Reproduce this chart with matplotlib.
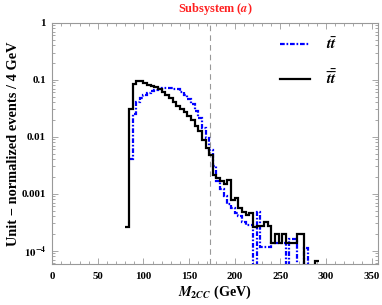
import numpy as np
import matplotlib
matplotlib.use("Agg")
import matplotlib.pyplot as plt
from matplotlib.ticker import FixedLocator, LogLocator, NullFormatter, FixedFormatter

# ---------------- data ----------------
bin_width = 4
black_start = 80
black_vals = [2.6e-4, 0.030, 0.083, 0.096, 0.096, 0.087, 0.082, 0.077, 0.073, 0.068,
              0.061, 0.054, 0.047, 0.040, 0.034, 0.030, 0.027, 0.023, 0.0196, 0.0155,
              0.0126, 0.0086, 0.0063, 0.0048, 0.0021, 0.0019, 0.0017, 0.00146, 0.00174, 0.00077,
              0.00083, 0.00055, 0.00048, 0.00042, 0.00045, 0.00026, 0.00027, 0.00027, 0.00032, 0.00027,
              1.35e-4, 2.0e-4, 1.35e-4, 2.0e-4, 1.35e-4, 1.35e-4, 1.35e-4, 2.0e-4, 2.0e-4, 1e-7,
              1e-7, 1e-7, 6.5e-5]
blue_start = 84
blue_vals = [0.004, 0.025, 0.040, 0.047, 0.054, 0.059, 0.063, 0.066, 0.068, 0.0706,
             0.071, 0.071, 0.070, 0.068, 0.062, 0.054, 0.045, 0.037, 0.0286, 0.021,
             0.014, 0.0094, 0.0058, 0.0030, 0.0017, 0.0012, 0.0009, 0.00066, 0.00057, 0.00045,
             0.0004, 0.00032, 0.00028, 0.00028, 1e-7, 0.00048, 0.000115, 0.000115, 0.000115, 0.000135,
             0.000135, 0.000135, 0.000135, 1e-7, 0.00016, 0.00016, 1e-7, 1e-7, 0.00011, 1e-7]
top_mass = 173
x_ticks = [0, 50, 100, 150, 200, 250, 300, 350]
y_ticks = [1e-4, 1e-3, 1e-2, 1e-1, 1]
y_ticklabels = [r'$\mathbf{10^{-4}}$', '0.001', '0.01', '0.1', '1']
label_tt = r'$t\bar{t}$'
label_bb = r'$\bar{t}\bar{\bar{t}}$'
title = 'Subsystem ($a$)'
xlabel = r'$M_{2CC}$ (GeV)'
ylabel = 'Unit \u2212 normalized events / 4 GeV'

# ---------------- style ----------------
plt.rcParams['font.family'] = ['Liberation Serif', 'DejaVu Serif']
plt.rcParams['mathtext.fontset'] = 'stix'
plt.rcParams['font.weight'] = 'bold'
plt.rcParams['lines.scale_dashes'] = False

W, H = 382, 305
fig = plt.figure(figsize=(W / 100, H / 100), dpi=100)
L, R, T, B = 52.2, 378.0, 22.7, 264.3
ax = fig.add_axes([L / W, 1 - B / H, (R - L) / W, (B - T) / H])

black_edges = black_start + bin_width * np.arange(len(black_vals) + 1)
blue_edges = blue_start + bin_width * np.arange(len(blue_vals) + 1)

ax.axvline(top_mass, color='#999999', lw=0.8, ls=(0, (4, 3)), zorder=1)
ax.stairs(blue_vals, blue_edges, baseline=None, color='#0000ff', lw=1.6,
          ls=(0, (3.4, 1.3, 1.2, 1.3)), label=label_tt, zorder=2)
ax.stairs(black_vals, black_edges, baseline=None, color='black', lw=1.6,
          label=label_bb, zorder=3)

ax.set_yscale('log')
ax.set_xlim(0, 357)
ax.set_ylim(10 ** -4.239, 1)

gray = '#999999'
for s in ax.spines.values():
    s.set_color(gray)
    s.set_linewidth(0.8)

ax.xaxis.set_major_locator(FixedLocator(x_ticks))
ax.xaxis.set_minor_locator(FixedLocator(np.arange(0, 360, 10)))
ax.yaxis.set_major_locator(FixedLocator(y_ticks))
ax.yaxis.set_major_formatter(FixedFormatter(y_ticklabels))
ax.yaxis.set_minor_locator(LogLocator(base=10, subs=np.arange(2, 10), numticks=20))
ax.yaxis.set_minor_formatter(NullFormatter())
ax.tick_params(which='both', direction='in', top=True, right=True, color=gray, width=0.6,
               labelsize=7.8, labelcolor='black')
ax.tick_params(which='major', length=4.0)
ax.tick_params(which='minor', length=2.2)
ax.tick_params(axis='x', pad=5.5)
ax.tick_params(axis='y', pad=4.5)
for lab in ax.get_xticklabels() + ax.get_yticklabels():
    lab.set_fontweight('bold')

ax.set_title(title, color='#ff2020', fontsize=8.8, fontweight='bold', pad=8)
ax.set_xlabel(xlabel, fontsize=10.2, fontweight='bold', labelpad=2)
ax.set_ylabel(ylabel, fontsize=10.4, fontweight='bold', labelpad=1)

ax.legend(loc='upper left', bbox_to_anchor=(0.699, 0.945), frameon=False, fontsize=11,
          handlelength=2.0, handletextpad=1.0, labelspacing=1.05, borderpad=0, borderaxespad=0)

fig.savefig('out.png', dpi=100)
